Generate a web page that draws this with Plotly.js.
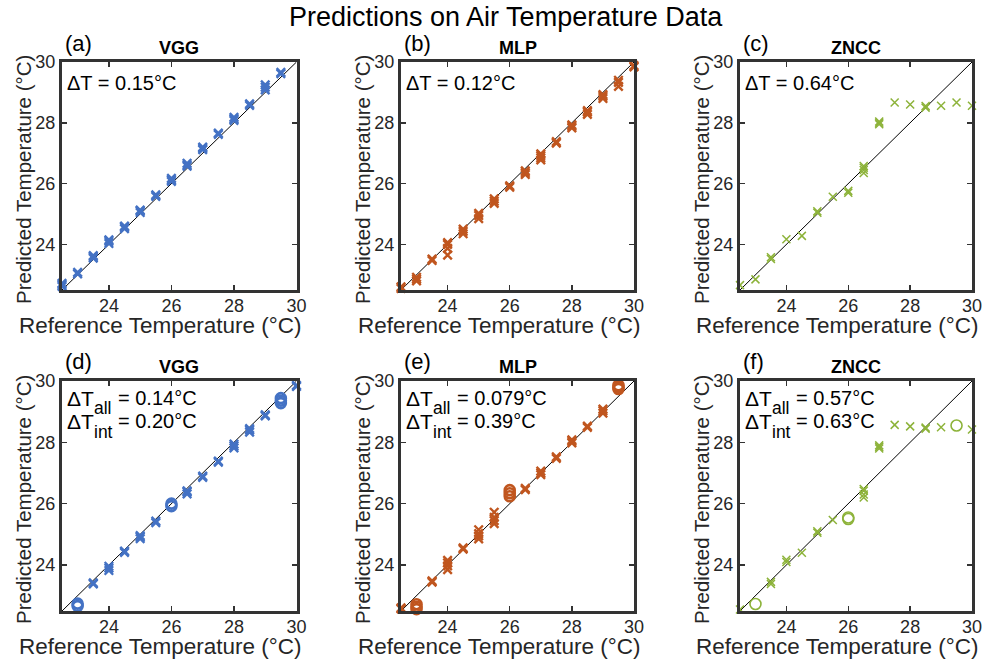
<!DOCTYPE html>
<html>
<head>
<meta charset="utf-8">
<script src="https://cdn.plot.ly/plotly-3.0.1.min.js"></script>
<style>html,body{margin:0;padding:0;background:#fff;}#chart{width:984px;height:660px;}</style>
</head>
<body>
<div id="chart"></div>
<script>
// ---------- data ----------
const chartTitle = "Predictions on Air Temperature Data";
const panelLabels = ["(a)", "(b)", "(c)", "(d)", "(e)", "(f)"];
const modelNames = ["VGG", "MLP", "ZNCC", "VGG", "MLP", "ZNCC"];
const xTitle = "Reference Temperature (°C)";
const yTitle = "Predicted Temperature (°C)";
const tickVals = [24, 26, 28, 30];
const axisRange = [22.5, 30];
const diagLine = [22.5, 30];

const errTop = ["ΔT = 0.15°C", "ΔT = 0.12°C", "ΔT = 0.64°C"];
const errAllVal = ["= 0.14°C", "= 0.079°C", "= 0.57°C"];
const errIntVal = ["= 0.20°C", "= 0.39°C", "= 0.63°C"];
const deltaSym = "ΔT";
const subAll = "all";
const subInt = "int";

// (a) VGG
const refA = [22.5,22.5,22.5, 23,23, 23.5,23.5,23.5, 24,24,24, 24.5,24.5,24.5, 25,25,25, 25.5,25.5, 26,26,26, 26.5,26.5,26.5, 27,27,27, 27.5,27.5, 28,28,28, 28.5,28.5, 29,29,29, 29.5,29.5];
const predA = [22.62,22.68,22.72, 23.03,23.08, 23.55,23.6,23.63, 24.03,24.1,24.15, 24.52,24.57,24.6, 25.05,25.1,25.13, 25.58,25.63, 26.07,26.12,26.17, 26.57,26.62,26.67, 27.12,27.16,27.2, 27.62,27.66, 28.08,28.13,28.18, 28.57,28.62, 29.08,29.17,29.25, 29.62,29.66];
// (b) MLP
const refB = [22.5,22.5, 23,23,23, 23.5,23.5, 24,24,24,24, 24.5,24.5,24.5, 25,25,25, 25.5,25.5,25.5, 26,26, 26.5,26.5,26.5, 27,27,27,27, 27.5,27.5, 28,28,28, 28.5,28.5,28.5, 29,29,29, 29.5,29.5,29.5, 30,30];
const predB = [22.55,22.6, 22.8,22.86,22.92, 23.47,23.52, 23.65,23.87,24.0,24.06, 24.35,24.43,24.5, 24.85,24.95,25.02, 25.35,25.42,25.5, 25.88,25.93, 26.3,26.36,26.42, 26.78,26.85,26.92,26.98, 27.33,27.38, 27.83,27.88,27.93, 28.28,28.35,28.4, 28.8,28.87,28.93, 29.2,29.33,29.4, 29.84,29.88];
// (c) ZNCC
const refC = [22.5, 23, 23.5,23.5, 24, 24.5, 25,25, 25.5, 26,26, 26.5,26.5,26.5,26.5, 27,27,27, 27.5, 28, 28.5,28.5, 29, 29.5, 30];
const predC = [22.66, 22.85, 23.52,23.58, 24.17, 24.28, 25.04,25.09, 25.57, 25.7,25.76, 26.35,26.45,26.52,26.58, 27.95,28.0,28.04, 28.67, 28.6, 28.5,28.55, 28.56, 28.67, 28.56];
// (d) VGG, measured (x) and interpolated (o)
const refDx = [23.5,23.5, 24,24,24, 24.5,24.5, 25,25,25, 25.5,25.5, 26.5,26.5,26.5, 27,27, 27.5,27.5, 28,28,28, 28.5,28.5,28.5, 29,29, 30,30];
const predDx = [23.38,23.42, 23.82,23.9,23.96, 24.41,24.45, 24.86,24.92,24.96, 25.38,25.43, 26.32,26.38,26.42, 26.86,26.9, 27.35,27.39, 27.82,27.88,27.94, 28.33,28.4,28.45, 28.86,28.9, 29.82,29.86];
const refDo = [23,23, 26,26, 29.5,29.5,29.5];
const predDo = [22.66,22.74, 25.92,26.0, 29.28,29.36,29.44];
// (e) MLP
const refEx = [22.5,22.5, 23.5,23.5, 24,24,24,24, 24.5,24.5, 25,25,25,25, 25.5,25.5,25.5,25.5, 26.5,26.5, 27,27,27, 27.5,27.5, 28,28,28, 28.5,28.5, 29,29,29];
const predEx = [22.57,22.6, 23.44,23.48, 23.85,23.97,24.07,24.15, 24.52,24.56, 24.85,24.95,25.02,25.15, 25.35,25.45,25.55,25.72, 26.46,26.5, 26.95,27.0,27.06, 27.48,27.53, 27.98,28.03,28.08, 28.49,28.53, 28.95,29.03,29.08];
const refEo = [23,23,23, 26,26,26, 29.5,29.5,29.5];
const predEo = [22.56,22.64,22.72, 26.24,26.34,26.44, 29.74,29.8,29.86];
// (f) ZNCC
const refFx = [22.5, 23.5,23.5, 24,24, 24.5, 25,25, 25.5, 26.5,26.5,26.5,26.5, 27,27,27, 27.5, 28, 28.5,28.5, 29, 30];
const predFx = [22.55, 23.38,23.45, 24.1,24.17, 24.4, 25.05,25.1, 25.47, 26.2,26.3,26.42,26.48, 27.8,27.85,27.9, 28.57, 28.52, 28.44,28.48, 28.49, 28.42];
const refFo = [23, 26,26, 29.5];
const predFo = [22.73, 25.5,25.55, 28.55];

// ---------- styling / layout ----------
const W = 984, H = 660;
const px = v => v / W;
const py = v => 1 - v / H;
const FONT = "Liberation Sans, Arial, Helvetica, sans-serif";
const GRAY = "#262626";
const colors = ["#4472C4", "#C0561F", "#8DB33A"];

// plot boxes in pixels [left, right], [top, bottom]
const colPx = [[62, 296.5], [401, 634], [740, 972]];
const rowPx = [[62, 290], [381, 611]];

const panels = [
  {xs: refA, ys: predA},
  {xs: refB, ys: predB},
  {xs: refC, ys: predC},
  {xs: refDx, ys: predDx, xo: refDo, yo: predDo},
  {xs: refEx, ys: predEx, xo: refEo, yo: predEo},
  {xs: refFx, ys: predFx, xo: refFo, yo: predFo}
];

const traces = [];
const layout = {
  width: W, height: H,
  margin: {l: 0, r: 0, t: 0, b: 0},
  paper_bgcolor: "#fff", plot_bgcolor: "#fff",
  showlegend: false,
  font: {family: FONT, color: GRAY},
  annotations: []
};

function axisDef(domain, anchor, isX) {
  return {
    domain: domain, anchor: anchor, range: axisRange,
    tickvals: tickVals, ticks: "inside", ticklen: 5, tickwidth: 1.5, tickcolor: "#333",
    showline: true, linewidth: 3, linecolor: "#333", mirror: "ticks",
    showgrid: false, zeroline: false,
    ticklabelstandoff: isX ? -3 : 0,
    tickfont: {family: FONT, size: 18, color: GRAY}
  };
}

function ann(x, y, text, size, color, extra) {
  return Object.assign({xref: "paper", yref: "paper", x: px(x), y: py(y),
    xanchor: "left", yanchor: "middle", showarrow: false, text: text,
    font: {family: FONT, size: size, color: color}}, extra || {});
}

panels.forEach((p, i) => {
  const r = Math.floor(i / 3), c = i % 3;
  const n = i + 1;
  const xa = "x" + (n === 1 ? "" : n), ya = "y" + (n === 1 ? "" : n);
  const xKey = "xaxis" + (n === 1 ? "" : n), yKey = "yaxis" + (n === 1 ? "" : n);
  const cx = colPx[c], ry = rowPx[r];
  layout[xKey] = axisDef([px(cx[0]), px(cx[1])], ya, true);
  layout[yKey] = axisDef([py(ry[1]), py(ry[0])], xa, false);
  const col = colors[c];
  const thin = (c === 2);

  traces.push({x: diagLine, y: diagLine, xaxis: xa, yaxis: ya, mode: "lines",
    line: {color: "#000", width: 1}, hoverinfo: "skip"});
  traces.push({x: p.xs, y: p.ys, xaxis: xa, yaxis: ya, mode: "markers", cliponaxis: false,
    marker: {symbol: "x-thin-open", size: thin ? 8 : 8.5, color: col, line: {color: col, width: thin ? 1.5 : 2.4}}});
  if (p.xo) {
    traces.push({x: p.xo, y: p.yo, xaxis: xa, yaxis: ya, mode: "markers", cliponaxis: false,
      marker: {symbol: "circle-open", size: thin ? 11 : 10, color: col, line: {color: col, width: thin ? 1.6 : 2.6}}});
  }

  const midX = (cx[0] + cx[1]) / 2;
  const L = cx[0];
  // subplot model title
  layout.annotations.push(ann(midX, r === 0 ? 48 : 367, "<b>" + modelNames[i] + "</b>", 18, "#000", {xanchor: "center"}));
  // panel label
  layout.annotations.push(ann(L + 0.5, r === 0 ? 44 : 361, panelLabels[i], 22, "#000"));
  // error annotations
  if (r === 0) {
    layout.annotations.push(ann(L + 3, 83, errTop[c], 20, "#000"));
  } else {
    layout.annotations.push(ann(L + 3, 398, deltaSym, 21, "#000"));
    layout.annotations.push(ann(L + 30, 408, subAll, 17.5, "#000"));
    layout.annotations.push(ann(L + 54, 398, errAllVal[c], 20, "#000"));
    layout.annotations.push(ann(L + 3, 421, deltaSym, 21, "#000"));
    layout.annotations.push(ann(L + 30, 432, subInt, 17.5, "#000"));
    layout.annotations.push(ann(L + 54, 421, errIntVal[c], 20, "#000"));
  }
  // axis titles
  layout.annotations.push(ann(midX - 19, ry[1] + 35, xTitle, 22.5, GRAY, {xanchor: "center"}));
  layout.annotations.push(ann(L - 39, (ry[0] + ry[1]) / 2 + 4, yTitle, 20.5, GRAY, {xanchor: "center", textangle: -90}));
});

layout.annotations.push(ann(506, 17, chartTitle, 27, "#000", {xanchor: "center"}));

Plotly.newPlot("chart", traces, layout, {displayModeBar: false, staticPlot: true});
</script>
</body>
</html>
